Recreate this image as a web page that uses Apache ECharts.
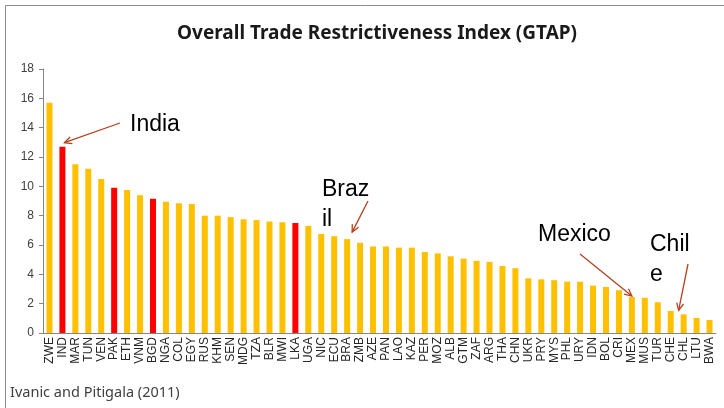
<!DOCTYPE html>
<html>
<head>
<meta charset="utf-8">
<style>
  html, body { margin: 0; padding: 0; background: #fff; }
  #main { width: 724px; height: 408px; }
</style>
<script src="https://cdn.jsdelivr.net/npm/echarts@6/dist/echarts.min.js"></script>
</head>
<body>
<div id="main"></div>
<script>
// country codes along the x axis
var categories = ['ZWE', 'IND', 'MAR', 'TUN', 'VEN', 'PAK', 'ETH', 'VNM', 'BGD', 'NGA',
    'COL', 'EGY', 'RUS', 'KHM', 'SEN', 'MDG', 'TZA', 'BLR', 'MWI', 'LKA',
    'UGA', 'NIC', 'ECU', 'BRA', 'ZMB', 'AZE', 'PAN', 'LAO', 'KAZ', 'PER',
    'MOZ', 'ALB', 'GTM', 'ZAF', 'ARG', 'THA', 'CHN', 'UKR', 'PRY', 'MYS',
    'PHL', 'URY', 'IDN', 'BOL', 'CRI', 'MEX', 'MUS', 'TUR', 'CHE', 'CHL',
    'LTU', 'BWA'];

// OTRI values
var values = [15.7, 12.7, 11.5, 11.2, 10.5, 9.9, 9.75, 9.4, 9.15, 8.95,
    8.85, 8.8, 8.0, 8.0, 7.9, 7.75, 7.7, 7.6, 7.55, 7.5,
    7.3, 6.75, 6.6, 6.4, 6.15, 5.9, 5.9, 5.82, 5.82, 5.52,
    5.43, 5.23, 5.07, 4.92, 4.85, 4.57, 4.42, 3.73, 3.66, 3.6,
    3.5, 3.5, 3.23, 3.14, 2.92, 2.45, 2.4, 2.1, 1.5, 1.27,
    1.03, 0.89];

// countries drawn in red
var highlighted = ['IND', 'PAK', 'BGD', 'LKA'];

var yMin = 0, yMax = 18, yStep = 2;

// callouts: text, its position, where the arrow starts, and bar it points at
var callouts = [
    { text: 'India', x: 130, y: 110, from: [120, 123], target: 'IND', tip: [2, -4] },
    { text: 'Braz\nil', x: 322, y: 175, from: [368, 201], target: 'BRA', tip: [5, -7] },
    { text: 'Mexico', x: 538, y: 220, from: [580, 254], target: 'MEX', tip: [0, -1] },
    { text: 'Chil\ne', x: 650, y: 230, from: [688, 264], target: 'CHL', tip: [-5, -4] }
];

var yellow = '#FFC000';
var red = '#FF0000';
var arrowColor = '#B5411F';

var myChart = echarts.init(document.getElementById('main'));

var barData = values.map(function (v, i) {
    return {
        value: v,
        itemStyle: { color: highlighted.indexOf(categories[i]) >= 0 ? red : yellow }
    };
});

myChart.setOption({
    animation: false,
    backgroundColor: '#fff',
    title: {
        text: 'Overall Trade Restrictiveness Index (GTAP)',
        left: 172,
        top: 19,
        textStyle: {
            fontFamily: 'Noto Sans',
            fontSize: 19,
            fontWeight: 'bold',
            color: '#1a1a1a'
        }
    },
    grid: {
        left: 43,
        right: 8,
        top: 69,
        bottom: 75
    },
    xAxis: {
        type: 'category',
        data: categories,
        axisLine: { lineStyle: { color: '#868686', width: 1 } },
        axisTick: { show: false },
        axisLabel: {
            interval: 0,
            rotate: 90,
            margin: 4,
            fontFamily: 'Liberation Sans',
            fontSize: 12,
            color: '#262626'
        }
    },
    yAxis: {
        type: 'value',
        min: yMin,
        max: yMax,
        interval: yStep,
        axisLine: { show: true, lineStyle: { color: '#868686', width: 1 } },
        axisTick: { show: true, length: 4, lineStyle: { color: '#868686' } },
        splitLine: { show: false },
        axisLabel: {
            margin: 9,
            fontFamily: 'Liberation Sans',
            fontSize: 12,
            color: '#404040'
        }
    },
    series: [
        {
            type: 'bar',
            data: barData,
            barWidth: 6
        }
    ]
});

// frame and source note, then arrows that point at the bar tops
// worked out through the chart's own axes
var extra = [
    {
        type: 'rect',
        id: 'frame',
        silent: true,
        shape: { x: 5.5, y: 5.5, width: 740, height: 420 },
        style: { fill: 'none', stroke: '#8c8c8c', lineWidth: 1 }
    },
    {
        type: 'text',
        id: 'source',
        silent: true,
        style: {
            text: 'Ivanic and Pitigala (2011)',
            x: 10,
            y: 385,
            fontFamily: 'Noto Sans',
            fontSize: 14.5,
            fill: '#404040',
            verticalAlign: 'top'
        }
    }
];

callouts.forEach(function (c, k) {
    var idx = categories.indexOf(c.target);
    var top = myChart.convertToPixel({ seriesIndex: 0 }, [idx, values[idx]]);
    var end = [top[0] + c.tip[0], top[1] + c.tip[1]];
    var dx = end[0] - c.from[0], dy = end[1] - c.from[1];
    var len = Math.sqrt(dx * dx + dy * dy);
    var ux = dx / len, uy = dy / len;
    var head = 8, spread = 0.45;
    var cos = Math.cos(spread), sin = Math.sin(spread);
    var a = [end[0] - head * (ux * cos - uy * sin), end[1] - head * (uy * cos + ux * sin)];
    var b = [end[0] - head * (ux * cos + uy * sin), end[1] - head * (uy * cos - ux * sin)];
    extra.push({
        type: 'line',
        id: 'shaft' + k,
        silent: true,
        shape: { x1: c.from[0], y1: c.from[1], x2: end[0], y2: end[1] },
        style: { stroke: arrowColor, lineWidth: 1.3 }
    });
    extra.push({
        type: 'polyline',
        id: 'head' + k,
        silent: true,
        shape: { points: [a, end, b] },
        style: { stroke: arrowColor, lineWidth: 1.3, fill: 'none' }
    });
    extra.push({
        type: 'text',
        id: 'label' + k,
        silent: true,
        style: {
            text: c.text,
            x: c.x,
            y: c.y,
            fontFamily: 'Liberation Sans',
            fontSize: 23,
            lineHeight: 30,
            fill: '#000',
            verticalAlign: 'top'
        }
    });
});

myChart.setOption({
    graphic: extra
});
</script>
</body>
</html>
